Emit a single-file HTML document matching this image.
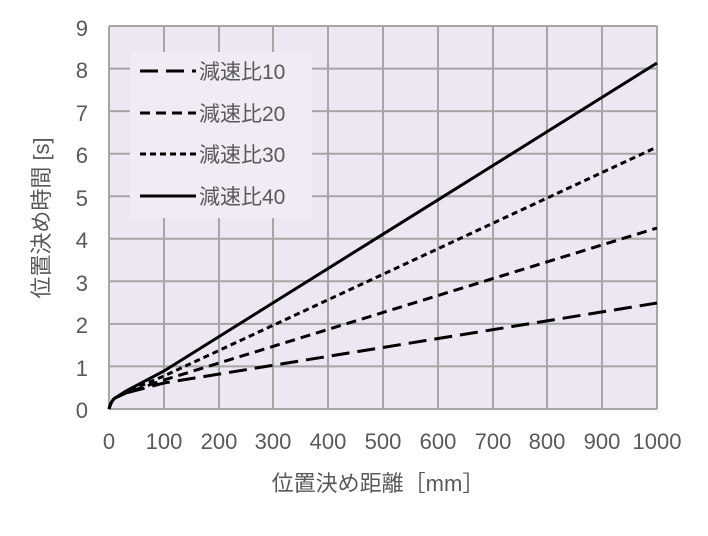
<!DOCTYPE html>
<html><head><meta charset="utf-8"><style>body{margin:0;background:#fff}svg text{font-family:"Liberation Sans","Noto Sans CJK JP",sans-serif;fill:#595959}</style></head><body>
<svg width="708" height="531" viewBox="0 0 708 531" xmlns="http://www.w3.org/2000/svg">
<rect x="109" y="26" width="548" height="383" fill="#ede7f3"/>
<g stroke="#a6a6a6" stroke-width="2">
<line x1="164" y1="26" x2="164" y2="409"/><line x1="219" y1="26" x2="219" y2="409"/><line x1="273" y1="26" x2="273" y2="409"/><line x1="328" y1="26" x2="328" y2="409"/><line x1="383" y1="26" x2="383" y2="409"/><line x1="438" y1="26" x2="438" y2="409"/><line x1="493" y1="26" x2="493" y2="409"/><line x1="547" y1="26" x2="547" y2="409"/><line x1="602" y1="26" x2="602" y2="409"/><line x1="657" y1="26" x2="657" y2="409"/>
<line x1="109" y1="26" x2="109" y2="409"/>
<line x1="109" y1="366.4" x2="657" y2="366.4"/><line x1="109" y1="323.9" x2="657" y2="323.9"/><line x1="109" y1="281.3" x2="657" y2="281.3"/><line x1="109" y1="238.8" x2="657" y2="238.8"/><line x1="109" y1="196.2" x2="657" y2="196.2"/><line x1="109" y1="153.7" x2="657" y2="153.7"/><line x1="109" y1="111.1" x2="657" y2="111.1"/><line x1="109" y1="68.6" x2="657" y2="68.6"/><line x1="109" y1="26" x2="657" y2="26"/>
<line x1="109" y1="409" x2="657" y2="409"/>
</g>
<rect x="130" y="52" width="182" height="166" fill="#f0ebf5"/>
<g fill="none" stroke="#000" stroke-width="3">
<path d="M109,409 Q111,401 115,398 L126,393 L164,383 L657,303" stroke-dasharray="18,8"/>
<path d="M109,409 Q111,401 115,398 L126,393 L164,380 L657,228" stroke-dasharray="10,6"/>
<path d="M109,409 Q111,401 115,398 L126,392 L164,376 L657,147" stroke-dasharray="6,4"/>
<path d="M109,409 Q111,401 115,398 L126,391 L164,371 L657,63"/>
<line x1="140" y1="71" x2="196" y2="71" stroke-dasharray="18,8"/>
<line x1="140" y1="113" x2="196" y2="113" stroke-dasharray="10,6"/>
<line x1="140" y1="154" x2="196" y2="154" stroke-dasharray="6,4"/>
<line x1="140" y1="196" x2="196" y2="196"/>
</g>
<g font-size="21">
<text x="199" y="79">減速比10</text><text x="199" y="121">減速比20</text><text x="199" y="162">減速比30</text><text x="199" y="204">減速比40</text>
</g>
<g font-size="22" text-anchor="end">
<text x="88" y="418">0</text><text x="88" y="376">1</text><text x="88" y="333">2</text><text x="88" y="291">3</text><text x="88" y="248">4</text><text x="88" y="206">5</text><text x="88" y="163">6</text><text x="88" y="121">7</text><text x="88" y="78">8</text><text x="88" y="36">9</text>
</g>
<g font-size="22" text-anchor="middle">
<text x="109" y="449">0</text><text x="164" y="449">100</text><text x="219" y="449">200</text><text x="273" y="449">300</text><text x="328" y="449">400</text><text x="383" y="449">500</text><text x="438" y="449">600</text><text x="493" y="449">700</text><text x="547" y="449">800</text><text x="602" y="449">900</text><text x="657" y="449">1000</text>
<text x="378" y="491">位置決め距離［mm］</text>
<text transform="translate(49,218) rotate(-90)">位置決め時間 [s]</text>
</g>
</svg>
</body></html>
